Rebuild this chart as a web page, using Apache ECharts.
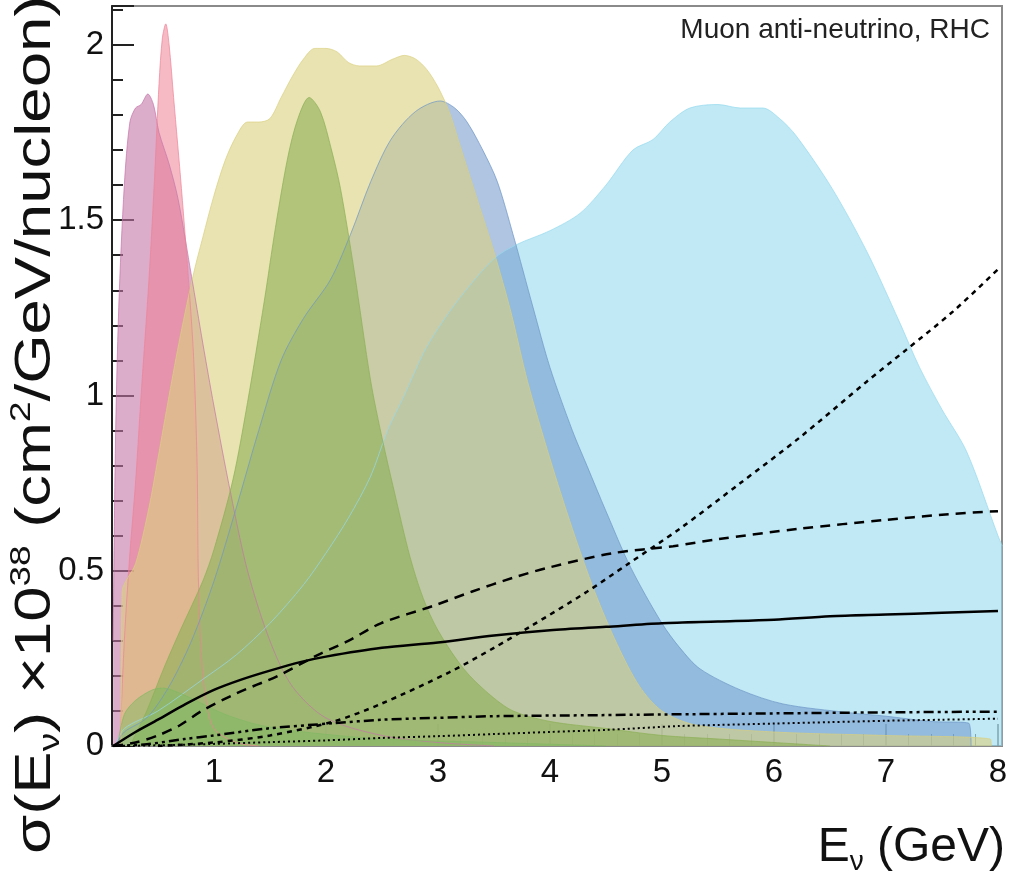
<!DOCTYPE html>
<html><head><meta charset="utf-8">
<script src="https://cdn.jsdelivr.net/npm/echarts@6/dist/echarts.min.js"></script>
<style>html,body{margin:0;padding:0;background:#fff}#c{width:1013px;height:871px}</style>
</head><body><div id="c"></div>
<script>
// ---- axis tick values ----
const xTicks = [1,2,3,4,5,6,7,8];
const xMinorTicks = [0.2,0.4,0.6,0.8,1.2,1.4,1.6,1.8,2.2,2.4,2.6,2.8,3.2,3.4,3.6,3.8,4.2,4.4,4.6,4.8,5.2,5.4,5.6,5.8,6.2,6.4,6.6,6.8,7.2,7.4,7.6,7.8];
const yTicks = [0,0.5,1,1.5,2];

// ---- filled distributions [E (GeV), value] ----
const lightBlue = [[0.12,0],[0.2,0.05],[0.5,0.1],[0.9,0.19],[1.2,0.26],[1.5,0.35],[1.8,0.46],[2.0,0.55],[2.2,0.65],[2.4,0.77],[2.55,0.9],[2.7,1.0],[2.87,1.12],[3.0,1.19],[3.2,1.28],[3.5,1.39],[3.7,1.43],[4.0,1.47],[4.27,1.52],[4.5,1.6],[4.74,1.7],[4.92,1.73],[5.07,1.78],[5.25,1.82],[5.5,1.83],[5.7,1.82],[5.9,1.82],[6.05,1.79],[6.2,1.74],[6.52,1.59],[6.83,1.41],[7.12,1.21],[7.3,1.08],[7.5,0.96],[7.72,0.84],[8.0,0.6],[8.04,0.57]];
const blueGray = [[0.12,0],[0.2,0.04],[0.4,0.08],[0.6,0.17],[0.8,0.3],[1.0,0.47],[1.2,0.68],[1.4,0.9],[1.6,1.1],[1.8,1.22],[2.04,1.33],[2.22,1.46],[2.4,1.61],[2.58,1.73],[2.8,1.81],[3.02,1.84],[3.15,1.82],[3.26,1.78],[3.4,1.7],[3.53,1.61],[3.67,1.46],[3.85,1.25],[4.0,1.08],[4.2,0.9],[4.33,0.8],[4.5,0.67],[4.72,0.51],[5.0,0.35],[5.16,0.28],[5.34,0.22],[5.7,0.16],[6.08,0.12],[6.67,0.095],[7.0,0.085],[7.4,0.07],[7.74,0.065],[7.76,0]];
const yellow = [[0.17,0],[0.18,0.44],[0.3,0.52],[0.42,0.68],[0.5,0.82],[0.6,1.0],[0.7,1.17],[0.82,1.35],[0.9,1.45],[1.0,1.57],[1.1,1.67],[1.2,1.74],[1.3,1.78],[1.4,1.78],[1.5,1.79],[1.6,1.85],[1.7,1.91],[1.8,1.96],[1.9,1.99],[2.0,1.99],[2.1,1.98],[2.2,1.95],[2.3,1.94],[2.45,1.94],[2.6,1.96],[2.7,1.97],[2.8,1.96],[2.9,1.93],[3.0,1.88],[3.1,1.81],[3.2,1.71],[3.35,1.56],[3.5,1.41],[3.65,1.24],[3.8,1.04],[4.0,0.82],[4.2,0.62],[4.4,0.44],[4.6,0.29],[4.8,0.17],[5.0,0.1],[5.3,0.06],[6.0,0.04],[7.0,0.03],[7.93,0.02],[7.94,0]];
const green = [[0.25,0],[0.4,0.1],[0.55,0.22],[0.7,0.33],[0.9,0.47],[1.0,0.56],[1.17,0.76],[1.3,0.98],[1.45,1.27],[1.55,1.48],[1.66,1.68],[1.75,1.79],[1.85,1.85],[1.95,1.81],[2.05,1.7],[2.13,1.59],[2.25,1.36],[2.4,1.04],[2.5,0.88],[2.6,0.74],[2.75,0.54],[2.87,0.42],[3.0,0.33],[3.23,0.22],[3.45,0.15],[3.67,0.1],[4.0,0.07],[4.5,0.05],[5.0,0.03],[5.5,0.02],[6.0,0.01],[6.5,0]];
const greenHump = [[0.14,0],[0.2,0.09],[0.3,0.13],[0.45,0.16],[0.55,0.165],[0.7,0.15],[0.9,0.12],[1.1,0.09],[1.4,0.06],[1.8,0.04],[2.5,0.02],[3.5,0.01],[4.5,0]];
const purple = [[0.1,0.3],[0.12,0.85],[0.15,1.25],[0.2,1.6],[0.25,1.78],[0.3,1.82],[0.35,1.83],[0.41,1.86],[0.46,1.83],[0.51,1.75],[0.6,1.66],[0.68,1.56],[0.8,1.34],[0.9,1.15],[1.0,0.97],[1.15,0.72],[1.3,0.5],[1.5,0.3],[1.7,0.17],[2.0,0.08],[2.5,0.03],[3.0,0.01],[3.5,0]];
const pink = [[0.16,0],[0.2,0.3],[0.25,0.55],[0.3,0.75],[0.35,1.0],[0.42,1.33],[0.47,1.62],[0.51,1.89],[0.54,2.02],[0.57,2.06],[0.6,2.0],[0.64,1.85],[0.71,1.59],[0.78,1.3],[0.82,1.1],[0.85,0.8],[0.86,0.5],[0.88,0.3],[0.92,0.15],[1.0,0.05],[1.2,0.01],[1.4,0]];

// ---- cross-section curves ----
const lineSolid = [[0.1,0],[0.3,0.04],[0.5,0.075],[0.75,0.12],[1.0,0.16],[1.25,0.19],[1.5,0.215],[1.78,0.24],[2.0,0.255],[2.5,0.28],[3.0,0.295],[3.5,0.315],[4.0,0.33],[4.5,0.34],[5.0,0.35],[5.5,0.355],[6.0,0.36],[6.5,0.37],[7.0,0.375],[7.5,0.38],[8.0,0.385]];
const lineDash = [[0.1,0],[0.3,0.01],[0.5,0.03],[0.7,0.06],[0.89,0.1],[1.2,0.15],[1.57,0.2],[1.93,0.26],[2.2,0.3],[2.49,0.35],[2.96,0.4],[3.3,0.44],[3.67,0.48],[4.0,0.51],[4.56,0.55],[5.1,0.57],[5.5,0.59],[6.23,0.62],[7.0,0.645],[7.5,0.66],[8.0,0.67]];
const lineDot = [[0.5,0],[1.0,0.01],[1.5,0.03],[2.07,0.07],[2.49,0.12],[3.1,0.21],[3.5,0.28],[3.82,0.34],[4.33,0.44],[4.7,0.52],[5.16,0.62],[5.7,0.75],[6.23,0.88],[6.83,1.04],[7.18,1.13],[7.6,1.24],[8.0,1.36]];
const lineDashDot = [[0.1,0],[0.4,0.005],[0.74,0.02],[1.0,0.03],[1.48,0.05],[2.07,0.065],[2.5,0.075],[2.96,0.08],[3.5,0.085],[4.45,0.088],[5.0,0.09],[6.0,0.093],[7.0,0.096],[8.0,0.098]];
const lineFineDot = [[0.1,0],[0.5,0.002],[1.0,0.006],[1.5,0.011],[2.0,0.016],[2.5,0.023],[3.0,0.028],[3.5,0.034],[4.0,0.04],[4.5,0.046],[5.16,0.057],[5.5,0.06],[6.0,0.064],[6.5,0.068],[7.0,0.072],[7.5,0.075],[8.0,0.078]];

const X_MIN = 0.09, X_MAX = 8.036, Y_MAX = 2.111;
const FONT = '"Liberation Sans", Arial, sans-serif';

function area(name, data, rgb, a) {
  return {
    name, type: 'line', data, showSymbol: false, smooth: 0.3,
    lineStyle: { color: 'rgba(' + rgb + ',0.7)', width: 1 },
    areaStyle: { color: 'rgba(' + rgb + ',' + a + ')', origin: 'start', opacity: 1 },
    z: 2, silent: true
  };
}
function curve(name, data, type, w) {
  return {
    name, type: 'line', data, showSymbol: false, smooth: 0.3,
    lineStyle: { color: '#000', width: w, type: type },
    z: 5, silent: true
  };
}

const chart = echarts.init(document.getElementById('c'), null, { renderer: 'canvas' });
chart.setOption({
  animation: false,
  backgroundColor: '#fff',
  grid: { left: 112, right: 11, top: 6, bottom: 125, show: true, borderColor: '#8a8a8a', borderWidth: 2, backgroundColor: 'transparent' },
  xAxis: [{
    type: 'value', min: X_MIN, max: X_MAX,
    axisLine: { show: true, onZero: false, lineStyle: { color: '#8a8a8a', width: 2 } },
    axisTick: { show: true, inside: true, length: 22, customValues: xTicks, lineStyle: { color: '#555', width: 1.5 } },
    axisLabel: { show: true, customValues: xTicks, fontSize: 33, color: '#111', fontFamily: FONT, margin: 10 },
    splitLine: { show: false }
  }, {
    type: 'value', min: X_MIN, max: X_MAX, position: 'bottom',
    axisLine: { show: false },
    axisTick: { show: true, inside: true, length: 12, customValues: xMinorTicks, lineStyle: { color: '#555', width: 1 } },
    axisLabel: { show: false },
    splitLine: { show: false }
  }],
  yAxis: {
    type: 'value', min: 0, max: Y_MAX, interval: 0.5,
    axisLine: { show: true, lineStyle: { color: '#222', width: 2 } },
    axisTick: { show: true, inside: true, length: 22, lineStyle: { color: '#222', width: 2 } },
    minorTick: { show: true, splitNumber: 5, length: 11, lineStyle: { color: '#222', width: 2 } },
    axisLabel: { fontSize: 33, color: '#111', fontFamily: FONT, margin: 8, showMaxLabel: true,
      formatter: v => (yTicks.includes(Math.round(v*10)/10) ? String(Math.round(v*10)/10) : '') },
    splitLine: { show: false }
  },
  series: [
    area('purple', purple, '197,117,168', 0.6),
    area('pink', pink, '238,130,150', 0.55),
    area('lightBlue', lightBlue, '150,218,238', 0.6),
    area('blueGray', blueGray, '110,150,200', 0.55),
    area('yellow', yellow, '218,208,127', 0.6),
    area('green', green, '140,175,85', 0.6),
    area('greenHump', greenHump, '130,185,100', 0.5),
    curve('solid', lineSolid, 'solid', 2.5),
    curve('dash', lineDash, [10, 7], 2.5),
    curve('dot', lineDot, [5, 5], 2.5),
    curve('dashdot', lineDashDot, [10, 4, 3, 4, 3, 4], 2.5),
    curve('finedot', lineFineDot, [2, 3], 2)
  ],
  graphic: [
    { type: 'text', right: 23, top: 16, z: 10,
      style: { text: 'Muon anti-neutrino, RHC', font: '28px ' + FONT, fill: '#222' } },
    { type: 'text', x: 1005, y: 848, z: 10,
      style: {
        text: '{a|E}{s|ν}{a| (GeV)}', align: 'right', verticalAlign: 'middle', fill: '#111',
        rich: {
          a: { fontSize: 48, fontFamily: FONT, lineHeight: 56, verticalAlign: 'middle', fill: '#111' },
          s: { fontSize: 28, fontFamily: FONT, lineHeight: 26, verticalAlign: 'bottom', fill: '#111' }
        }
      } },
    { type: 'text', x: 36, y: 854, rotation: Math.PI / 2, scaleX: 1.27, z: 10,
      style: {
        text: '{a|σ(E}{s|ν}{a|) ×10}{p|38}{a| (cm}{p|2}{a|/GeV/nucleon)}', align: 'left', verticalAlign: 'middle', fill: '#111',
        rich: {
          a: { fontSize: 50, fontFamily: FONT, lineHeight: 58, verticalAlign: 'middle', fill: '#111' },
          s: { fontSize: 29, fontFamily: FONT, lineHeight: 27, verticalAlign: 'bottom', fill: '#111' },
          p: { fontSize: 29, fontFamily: FONT, lineHeight: 27, verticalAlign: 'top', fill: '#111' }
        }
      } }
  ]
});
</script></body></html>
